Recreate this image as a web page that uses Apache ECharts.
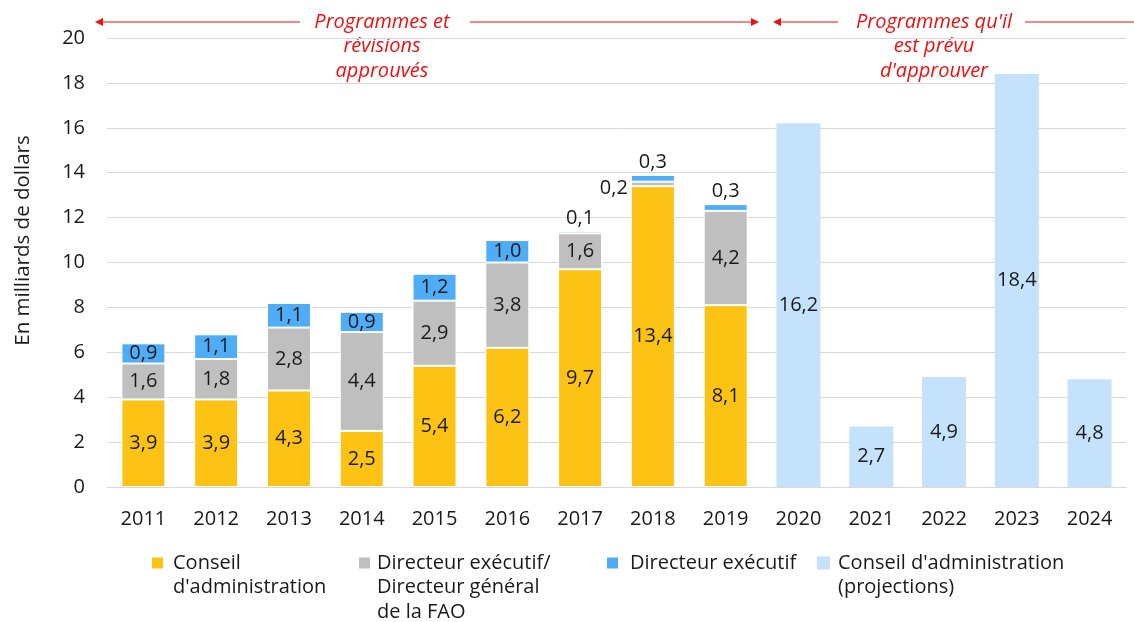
<!DOCTYPE html>
<html>
<head>
<meta charset="utf-8">
<script src="https://cdn.jsdelivr.net/npm/echarts@6/dist/echarts.min.js"></script>
<style>
  html, body { margin: 0; padding: 0; background: #fff; }
  #main { width: 1134px; height: 622px; }
</style>
</head>
<body>
<div id="main"></div>
<script>
// données
var annees = ['2011','2012','2013','2014','2015','2016','2017','2018','2019','2020','2021','2022','2023','2024'];
var conseil = [3.9, 3.9, 4.3, 2.5, 5.4, 6.2, 9.7, 13.4, 8.1, '-', '-', '-', '-', '-'];
var dirFao = [1.6, 1.8, 2.8, 4.4, 2.9, 3.8, 1.6, 0.2, 4.2, '-', '-', '-', '-', '-'];
var dirExec = [0.9, 1.1, 1.1, 0.9, 1.2, 1.0, 0.1, 0.3, 0.3, '-', '-', '-', '-', '-'];
var projections = ['-', '-', '-', '-', '-', '-', '-', '-', '-', 16.2, 2.7, 4.9, 18.4, 4.8];
var yTicks = [0, 20, 2];

var police = '"Open Sans", sans-serif';
var rouge = '#f00f0f';
var texte = '#1a1a1a';

function fmt(p) {
  return Number(p.value).toFixed(1).replace('.', ',');
}

// petites valeurs : étiquette au-dessus ou à gauche
function itemsAvecLabels(vals, seuil, posPetit) {
  return vals.map(function (v) {
    if (v === '-') return v;
    if (v < seuil) {
      return { value: v, label: posPetit };
    }
    return v;
  });
}

var labelBase = {
  show: true,
  position: 'inside',
  color: texte,
  fontSize: 20,
  fontFamily: police,
  formatter: fmt
};

// légende : une par élément ; lignes vides ajoutées devant pour que
// l'icône (centrée) tombe sur la première ligne
function legende(nom, left, nbLignes, gap) {
  var lh = 24.5;
  var total = 2 * nbLignes - 1;
  return {
    left: left,
    top: 563 - total * lh / 2,
    padding: 0,
    data: [nom],
    icon: 'rect',
    itemWidth: 13,
    itemHeight: 13,
    formatter: function (n) {
      return new Array(nbLignes).join('\n') + n;
    },
    textStyle: {
      color: texte, fontSize: 20, fontFamily: police, lineHeight: lh,
      padding: [0, 0, 0, gap]
    }
  };
}

var chart = echarts.init(document.getElementById('main'));

var option = {
  animation: false,
  grid: { left: 107, right: 8, top: 38, bottom: 135 },
  xAxis: {
    type: 'category',
    data: annees,
    axisLine: { lineStyle: { color: '#d9d9d9' } },
    axisTick: { show: false },
    axisLabel: { color: texte, fontSize: 20, fontFamily: police, margin: 22 }
  },
  yAxis: {
    type: 'value',
    min: yTicks[0],
    max: yTicks[1],
    interval: yTicks[2],
    name: 'En milliards de dollars',
    nameLocation: 'middle',
    nameGap: 73,
    nameTextStyle: { color: texte, fontSize: 20.5, fontFamily: police, padding: [0, 0, 0, 44] },
    axisLabel: { color: texte, fontSize: 20, fontFamily: police, margin: 22 },
    splitLine: { lineStyle: { color: '#d9d9d9' } },
    axisLine: { show: false },
    axisTick: { show: false }
  },
  legend: [
    legende('Conseil\nd\'administration', 150, 2, 4),
    legende('Directeur exécutif/\nDirecteur général\nde la FAO', 357, 3, 1),
    legende('Directeur exécutif', 605, 1, 6),
    legende('Conseil d\'administration\n(projections)', 817, 2, 3)
  ],
  series: [
    {
      name: 'Conseil\nd\'administration',
      type: 'bar',
      stack: 'total',
      barWidth: 44,
      itemStyle: { color: '#fdc314', borderColor: '#fff', borderWidth: 1 },
      label: labelBase,
      data: conseil
    },
    {
      name: 'Directeur exécutif/\nDirecteur général\nde la FAO',
      type: 'bar',
      stack: 'total',
      itemStyle: { color: '#bfbfbf', borderColor: '#fff', borderWidth: 1 },
      label: labelBase,
      data: itemsAvecLabels(dirFao, 0.5, { position: 'left', distance: 3, offset: [0, 4] })
    },
    {
      name: 'Directeur exécutif',
      type: 'bar',
      stack: 'total',
      itemStyle: { color: '#4fadf7', borderColor: '#fff', borderWidth: 1 },
      label: labelBase,
      data: itemsAvecLabels(dirExec, 0.5, { position: 'top', distance: 3 })
    },
    {
      name: 'Conseil d\'administration\n(projections)',
      type: 'bar',
      stack: 'total',
      itemStyle: { color: '#c5e2fc' },
      label: labelBase,
      data: projections
    }
  ],
  graphic: [
    // flèche gauche : programmes approuvés
    { type: 'line', shape: { x1: 102, y1: 22, x2: 300, y2: 22 }, style: { stroke: rouge, lineWidth: 1.2 } },
    { type: 'polygon', shape: { points: [[95, 22], [103, 18], [103, 26]] }, style: { fill: rouge } },
    { type: 'line', shape: { x1: 470, y1: 22, x2: 752, y2: 22 }, style: { stroke: rouge, lineWidth: 1.2 } },
    { type: 'polygon', shape: { points: [[759, 22], [751, 18], [751, 26]] }, style: { fill: rouge } },
    {
      type: 'text', x: 382, y: 10,
      style: {
        text: 'Programmes et\nrévisions\napprouvés',
        fill: rouge, font: 'italic 20px ' + police, align: 'center', verticalAlign: 'top', lineHeight: 24.5
      }
    },
    // flèche droite : programmes prévus
    { type: 'line', shape: { x1: 780, y1: 22, x2: 838, y2: 22 }, style: { stroke: rouge, lineWidth: 1.2 } },
    { type: 'polygon', shape: { points: [[773, 22], [781, 18], [781, 26]] }, style: { fill: rouge } },
    { type: 'line', shape: { x1: 1025, y1: 22, x2: 1134, y2: 22 }, style: { stroke: rouge, lineWidth: 1.2 } },
    {
      type: 'text', x: 934, y: 10,
      style: {
        text: 'Programmes qu\'il\nest prévu\nd\'approuver',
        fill: rouge, font: 'italic 20px ' + police, align: 'center', verticalAlign: 'top', lineHeight: 24.5
      }
    }
  ]
};

chart.setOption(option);
</script>
</body>
</html>
